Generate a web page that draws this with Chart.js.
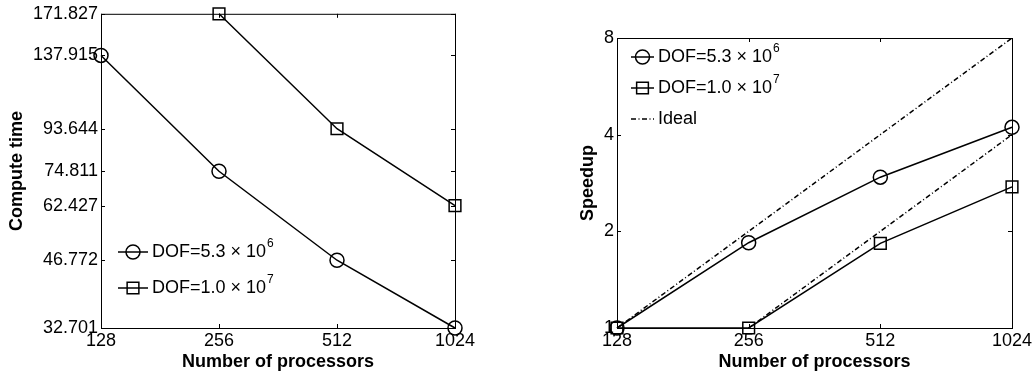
<!DOCTYPE html>
<html>
<head>
<meta charset="utf-8">
<script src="https://cdn.jsdelivr.net/npm/chart.js@4"></script>
<style>
  body { margin: 0; background: #fff; }
  #wrap { display: flex; width: 1036px; height: 379px; }
  canvas { display: block; }
</style>
</head>
<body>
<div id="wrap">
  <canvas id="time" width="518" height="379"></canvas>
  <canvas id="speed" width="518" height="379"></canvas>
</div>
<script>
const processors = [128, 256, 512, 1024];
const time53 = [137.915, 74.811, 46.772, 32.701];
const time10 = [null, 171.827, 93.644, 62.427];
const timeTicks = [32.701, 46.772, 62.427, 74.811, 93.644, 137.915, 171.827];
const speed53 = [1, 1.843, 2.949, 4.217];
const speed10 = [1, 1, 1.835, 2.752];
const ideal53 = [1, 2, 4, 8];
const ideal10 = [null, 1, 2, 4];
const speedTicks = [1, 2, 4, 8];

const FONT = "'Liberation Sans', Arial, sans-serif";
Chart.defaults.font.family = FONT;
Chart.defaults.font.size = 18;
Chart.defaults.color = "#000";

function pts(ys) {
  return processors
    .map((x, i) => ({ x: x, y: ys[i] }))
    .filter((p) => p.y !== null);
}

// box around the plot area with inward ticks, matlab style
const frame = {
  id: "frame",
  beforeDatasetsDraw(chart) {
    const { ctx, chartArea: a, scales } = chart;
    const tl = 4;
    ctx.save();
    ctx.strokeStyle = "#000";
    ctx.lineWidth = 1;
    ctx.strokeRect(a.left + 0.5, a.top + 0.5, a.right - a.left, a.bottom - a.top);
    ctx.beginPath();
    scales.x.ticks.forEach((t) => {
      const px = Math.round(scales.x.getPixelForValue(t.value)) + 0.5;
      ctx.moveTo(px, a.bottom); ctx.lineTo(px, a.bottom - tl);
      ctx.moveTo(px, a.top); ctx.lineTo(px, a.top + tl);
    });
    scales.y.ticks.forEach((t) => {
      const py = Math.round(scales.y.getPixelForValue(t.value)) + 0.5;
      ctx.moveTo(a.left, py); ctx.lineTo(a.left + tl, py);
      ctx.moveTo(a.right, py); ctx.lineTo(a.right - tl, py);
    });
    ctx.stroke();
    ctx.restore();
  },
};

// legend with superscript exponents, no box
const matLegend = {
  id: "matLegend",
  afterDraw(chart, args, opts) {
    const ctx = chart.ctx;
    let y = opts.y;
    chart.data.datasets.forEach((ds) => {
      if (!ds.label) return;
      ctx.save();
      ctx.strokeStyle = "#000";
      ctx.lineWidth = ds.borderWidth;
      ctx.setLineDash(ds.borderDash || []);
      ctx.beginPath();
      ctx.moveTo(opts.x, y);
      ctx.lineTo(opts.x + opts.len, y);
      ctx.stroke();
      ctx.setLineDash([]);
      if (ds.pointRadius > 0) {
        ctx.fillStyle = "rgba(0,0,0,0)";
        ctx.lineWidth = ds.pointBorderWidth;
        Chart.helpers.drawPoint(ctx, {
          pointStyle: ds.pointStyle,
          radius: ds.pointRadius,
          borderWidth: ds.pointBorderWidth,
          rotation: 0,
        }, opts.x + opts.len / 2, y);
      }
      ctx.fillStyle = "#000";
      ctx.font = "18px " + FONT;
      ctx.textBaseline = "middle";
      const tx = opts.x + opts.len + 4;
      ctx.fillText(ds.label, tx, y);
      if (ds.labelSup) {
        const w = ctx.measureText(ds.label).width;
        ctx.font = "12px " + FONT;
        ctx.fillText(ds.labelSup, tx + w + 1, y - 8);
      }
      ctx.restore();
      y += opts.gap;
    });
  },
};

function series(label, sup, data, style, radius) {
  return {
    label: label,
    labelSup: sup,
    data: pts(data),
    borderColor: "#000",
    borderWidth: 1.5,
    pointStyle: style,
    pointRadius: radius,
    pointHoverRadius: radius,
    pointBorderWidth: 1.5,
    pointBorderColor: "#000",
    pointBackgroundColor: "rgba(0,0,0,0)",
    clip: false,
  };
}

function idealLine(label, data) {
  return {
    label: label,
    data: pts(data),
    borderColor: "#000",
    borderWidth: 1.5,
    borderDash: [5, 2.5, 1, 2.5],
    pointRadius: 0,
    clip: false,
  };
}

function axes(yTicks, yMin, yMax, yTitle, yWidth, titlePad) {
  return {
    x: {
      type: "logarithmic",
      min: 128,
      max: 1024,
      grid: { display: false, drawTicks: false },
      border: { display: false },
      afterBuildTicks: (s) => { s.ticks = processors.map((v) => ({ value: v })); },
      afterFit: (s) => { s.height = 51; },
      ticks: { padding: 2, maxRotation: 0, autoSkip: false, callback: (v) => String(v) },
      title: { display: true, text: "Number of processors", font: { weight: "bold", size: 18 }, padding: { top: 0, bottom: 6 } },
    },
    y: {
      type: "logarithmic",
      min: yMin,
      max: yMax,
      grid: { display: false, drawTicks: false },
      border: { display: false },
      afterBuildTicks: (s) => { s.ticks = yTicks.map((v) => ({ value: v })); },
      afterFit: (s) => { s.width = yWidth; },
      ticks: { padding: 3, autoSkip: false, callback: (v) => String(v) },
      title: { display: true, text: yTitle, font: { weight: "bold", size: 18 }, padding: { top: titlePad, bottom: 0 } },
    },
  };
}

new Chart(document.getElementById("time"), {
  type: "line",
  data: {
    datasets: [
      series("DOF=5.3 \u00d7 10", "6", time53, "circle", 7),
      series("DOF=1.0 \u00d7 10", "7", time10, "rect", 8.3),
    ],
  },
  options: {
    responsive: false,
    animation: false,
    layout: { padding: { left: 0, top: 12, right: 63, bottom: 0 } },
    scales: axes(timeTicks, 32.701, 171.827, "Compute time", 101, 6),
    plugins: {
      legend: { display: false },
      tooltip: { enabled: false },
      matLegend: { x: 118, y: 252, len: 30, gap: 36 },
    },
  },
  plugins: [frame, matLegend],
});

new Chart(document.getElementById("speed"), {
  type: "line",
  data: {
    datasets: [
      series("DOF=5.3 \u00d7 10", "6", speed53, "circle", 7),
      series("DOF=1.0 \u00d7 10", "7", speed10, "rect", 8.3),
      idealLine("Ideal", ideal53),
      idealLine(null, ideal10),
    ],
  },
  options: {
    responsive: false,
    animation: false,
    layout: { padding: { left: 0, top: 38, right: 24, bottom: 0 } },
    scales: axes(speedTicks, 1, 8, "Speedup", 99, 59),
    plugins: {
      legend: { display: false },
      tooltip: { enabled: false },
      matLegend: { x: 113, y: 57, len: 23, gap: 31 },
    },
  },
  plugins: [frame, matLegend],
});
</script>
</body>
</html>
